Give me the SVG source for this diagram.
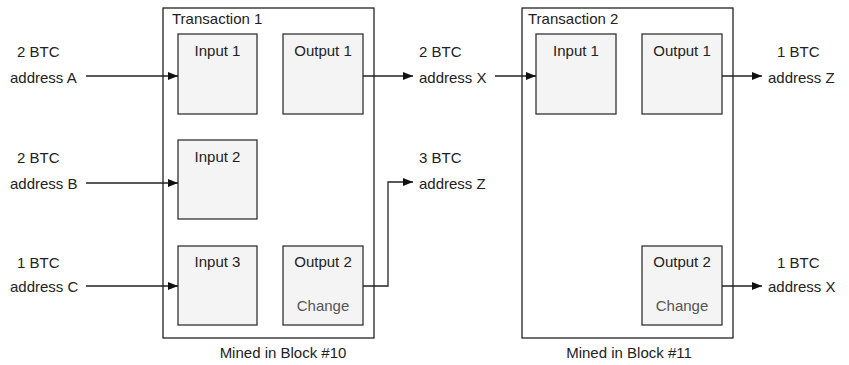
<svg xmlns="http://www.w3.org/2000/svg" width="849" height="365" viewBox="0 0 849 365">
<style>
text{font-family:"Liberation Sans",Arial,sans-serif;font-size:15px;fill:#222}
.tx{fill:#fff;stroke:#222;stroke-width:1.3}
.box{fill:#f4f4f4;stroke:#333;stroke-width:1.3}
.c{text-anchor:middle}
.g{fill:#555}
.e{fill:none;stroke:#222;stroke-width:1.3}
</style>
<defs>
<marker id="ah" viewBox="0 0 10 10" refX="10" refY="5" markerWidth="10" markerHeight="10" markerUnits="userSpaceOnUse" orient="auto">
<path d="M0,1 L10,5 L0,9 Z" fill="#111"/>
</marker>
</defs>
<g id="tx1">
<rect class="tx" x="163" y="8" width="211" height="330"/>
<text x="172" y="24">Transaction 1</text>
<text class="c" x="283" y="358">Mined in Block #10</text>
</g>
<g id="t1-in1"><rect class="box" x="178" y="34" width="79" height="80"/><text class="c" x="217.5" y="56">Input 1</text></g>
<g id="t1-out1"><rect class="box" x="283" y="34" width="80" height="80"/><text class="c" x="323" y="56">Output 1</text></g>
<g id="t1-in2"><rect class="box" x="178" y="140" width="79" height="79"/><text class="c" x="217.5" y="162">Input 2</text></g>
<g id="t1-in3"><rect class="box" x="178" y="246" width="79" height="79"/><text class="c" x="217.5" y="267">Input 3</text></g>
<g id="t1-out2"><rect class="box" x="283" y="246" width="80" height="79"/><text class="c" x="323" y="267">Output 2</text><text class="c g" x="323" y="311">Change</text></g>
<g id="tx2">
<rect class="tx" x="522" y="8" width="211" height="330"/>
<text x="528" y="24">Transaction 2</text>
<text class="c" x="629" y="358">Mined in Block #11</text>
</g>
<g id="t2-in1"><rect class="box" x="536" y="34" width="80" height="80"/><text class="c" x="576" y="56">Input 1</text></g>
<g id="t2-out1"><rect class="box" x="642" y="34" width="80" height="80"/><text class="c" x="682" y="56">Output 1</text></g>
<g id="t2-out2"><rect class="box" x="642" y="246" width="80" height="79"/><text class="c" x="682" y="267">Output 2</text><text class="c g" x="682" y="311">Change</text></g>
<g id="labels">
<text x="17" y="57">2 BTC</text><text x="10" y="83">address A</text>
<text x="17" y="163">2 BTC</text><text x="10" y="189">address B</text>
<text x="17" y="268">1 BTC</text><text x="10" y="292">address C</text>
<text x="419" y="57">2 BTC</text><text x="419" y="83">address X</text>
<text x="419" y="163">3 BTC</text><text x="419" y="189">address Z</text>
<text x="777" y="57">1 BTC</text><text x="768" y="83">address Z</text>
<text x="777" y="268">1 BTC</text><text x="768" y="292">address X</text>
</g>
<g id="connectors">
<path class="e" d="M86,76 H178" marker-end="url(#ah)"/>
<path class="e" d="M86,183 H178" marker-end="url(#ah)"/>
<path class="e" d="M86,286 H178" marker-end="url(#ah)"/>
<path class="e" d="M363,76 H413" marker-end="url(#ah)"/>
<path class="e" d="M363,286 H388 V182 H413" marker-end="url(#ah)"/>
<path class="e" d="M495,76 H536" marker-end="url(#ah)"/>
<path class="e" d="M722,76 H762" marker-end="url(#ah)"/>
<path class="e" d="M722,286 H762" marker-end="url(#ah)"/>
</g>
</svg>
